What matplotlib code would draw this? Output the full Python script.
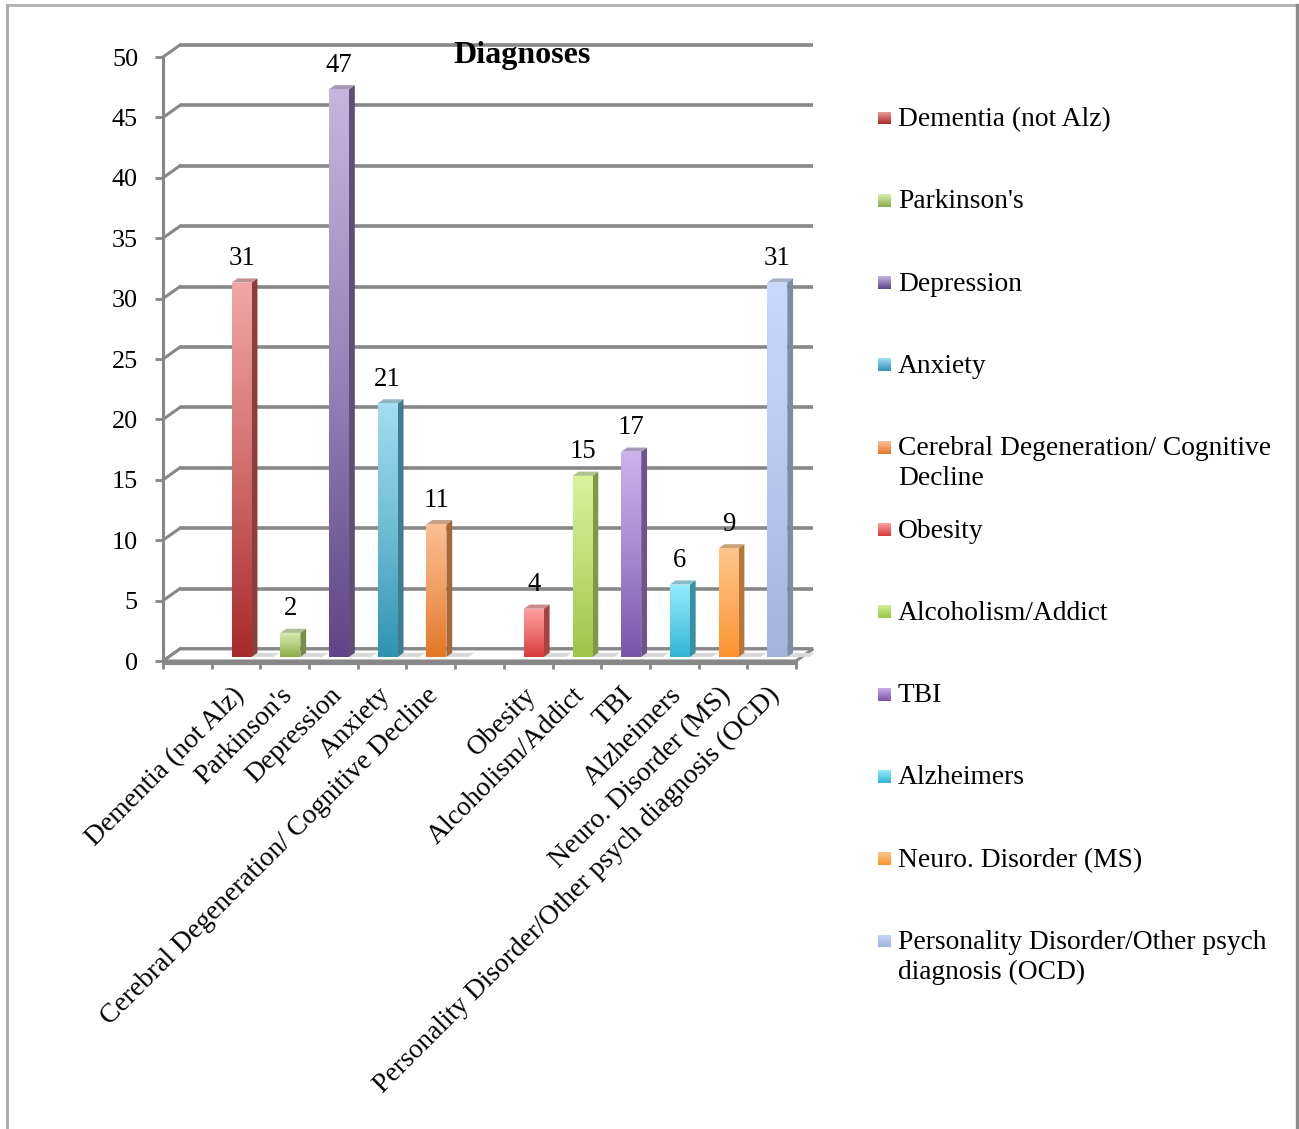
import numpy as np
import matplotlib
matplotlib.use('Agg')
import matplotlib.pyplot as plt
from matplotlib.patches import Polygon
from matplotlib.colors import LinearSegmentedColormap, to_rgb
from matplotlib.lines import Line2D

plt.rcParams['font.family'] = ['Liberation Serif', 'DejaVu Serif']

# ---------------- data ----------------
title = 'Diagnoses'
categories = ['', 'Dementia (not Alz)', "Parkinson's", 'Depression', 'Anxiety',
              'Cerebral Degeneration/ Cognitive Decline', '', 'Obesity',
              'Alcoholism/Addict', 'TBI', 'Alzheimers', 'Neuro. Disorder (MS)',
              'Personality Disorder/Other psych diagnosis (OCD)']
values = [None, 31, 2, 47, 21, 11, None, 4, 15, 17, 6, 9, 31]
legend_labels = ['Dementia (not Alz)', "Parkinson's", 'Depression', 'Anxiety',
                 'Cerebral Degeneration/ Cognitive\nDecline', 'Obesity',
                 'Alcoholism/Addict', 'TBI', 'Alzheimers', 'Neuro. Disorder (MS)',
                 'Personality Disorder/Other psych\ndiagnosis (OCD)']
top_colors = ['#f2a6a4', '#d7eeb0', '#c6b6de', '#a4ddf2', '#fbbf95', '#ffa0a0',
              '#d8f29a', '#cbb3ee', '#93ecfc', '#ffc58a', '#c8dafb']
bottom_colors = ['#a8292b', '#8aad48', '#5e4589', '#2f93b2', '#e37626', '#d83a3a',
                 '#9dc547', '#7a54aa', '#2fb3d6', '#fc922f', '#a2b4dc']
y_ticks = list(range(0, 51, 5))

# ---------------- style / geometry ----------------
W, H = 1299, 1129
GRAY = '#878787'
FS = 19.8
FS_TICK = 18.8
DX, DY = 0.35, 1.0          # depth of the 3-D box (x in slots, y in value units)
Z_FRONT, BAR_DEPTH, BAR_W = 0.33, 0.34, 0.41


def mix(c1, c2, t):
    a, b = np.array(to_rgb(c1)), np.array(to_rgb(c2))
    return tuple(a * (1 - t) + b * t)


def darker(c, f):
    return tuple(np.array(to_rgb(c)) * f)


fig = plt.figure(figsize=(W / 100, H / 100), dpi=100)
ax = fig.add_axes([163 / W, (H - 661) / H, (796 - 163) / W, (661 - 57) / H])
n = len(categories)

# back wall gridlines and side wall diagonals
for v in y_ticks:
    ax.plot([DX, n + DX], [v + DY, v + DY], color=GRAY, lw=2.6, clip_on=False, zorder=1,
            solid_capstyle='butt')
    ax.plot([0, DX], [v, v + DY], color=GRAY, lw=2.2, clip_on=False, zorder=1)

# floor
floor = Polygon([(0, 0), (n, 0), (n + DX, DY), (DX, DY)], closed=True, facecolor='white',
                edgecolor=GRAY, lw=2.2, clip_on=False, zorder=2)
ax.add_patch(floor)
ax.plot([0, n], [-0.15, -0.15], color=GRAY, lw=2.2, clip_on=False, zorder=2)

# bars
si = 0
for i, v in enumerate(values):
    if v is None:
        continue
    ct, cb = top_colors[si], bottom_colors[si]
    xc = i + 0.5 + Z_FRONT * DX
    b = Z_FRONT * DY
    x0, x1 = xc - BAR_W / 2, xc + BAR_W / 2
    # floor shadow
    sh = Polygon([(x1, b), (x1 + 0.45, b), (x1 + 0.45 + BAR_DEPTH * DX, b + BAR_DEPTH * DY),
                  (x1 + BAR_DEPTH * DX, b + BAR_DEPTH * DY)], closed=True,
                 facecolor='#d9d9d9', edgecolor='none', zorder=3, clip_on=False)
    ax.add_patch(sh)
    bars = ax.bar([xc], [v], bottom=b, width=BAR_W, color=cb, edgecolor='none', zorder=5)
    rect = bars[0]
    cmap = LinearSegmentedColormap.from_list('g%d' % si, [cb, mix(cb, ct, 0.55), ct])
    grad = np.linspace(0, 1, 256).reshape(-1, 1)
    im = ax.imshow(grad, cmap=cmap, extent=[x0, x1, b, b + v], origin='lower',
                   aspect='auto', zorder=5.5, interpolation='bicubic')
    im.set_clip_path(rect)
    # side face
    side = Polygon([(x1, b), (x1 + BAR_DEPTH * DX, b + BAR_DEPTH * DY),
                    (x1 + BAR_DEPTH * DX, b + v + BAR_DEPTH * DY), (x1, b + v)], closed=True,
                   facecolor=darker(mix(cb, ct, 0.35), 0.72), edgecolor='none', zorder=5,
                   clip_on=False)
    ax.add_patch(side)
    # top face
    top = Polygon([(x0, b + v), (x1, b + v), (x1 + BAR_DEPTH * DX, b + v + BAR_DEPTH * DY),
                   (x0 + BAR_DEPTH * DX, b + v + BAR_DEPTH * DY)], closed=True,
                  facecolor=mix(darker(ct, 0.85), '#9a9a9a', 0.25), edgecolor='none',
                  zorder=5, clip_on=False)
    ax.add_patch(top)
    ax.annotate(str(v), (xc, b + v), xytext=(0, 12.5), textcoords='offset points',
                ha='center', va='baseline', fontsize=FS_TICK + 0.5, zorder=7,
                annotation_clip=False)
    si += 1

# axes
ax.set_xlim(0, n)
ax.set_ylim(0, 50)
for s in ['top', 'right', 'bottom']:
    ax.spines[s].set_visible(False)
ax.spines['left'].set_color(GRAY)
ax.spines['left'].set_linewidth(2.2)
ax.spines['left'].set_zorder(2)
ax.set_yticks(y_ticks)
ax.tick_params(axis='y', direction='out', length=6, width=2, color=GRAY,
               labelsize=FS_TICK, pad=12)
ax.set_xticks(np.arange(n + 1), minor=True)
ax.set_xticks(np.arange(n) + 0.5 + Z_FRONT * DX - 0.03)
ax.set_xticklabels(categories, rotation=45, ha='right', va='center',
                   rotation_mode='anchor', fontsize=FS)
ax.tick_params(axis='x', which='major', length=0, pad=22)
ax.tick_params(axis='x', which='minor', direction='out', length=6, width=2, color=GRAY)
ax.patch.set_visible(False)

# title
fig.text(522 / W, 1 - 55 / H, title, ha='center', va='center', fontsize=23,
         fontweight='bold')

# legend (manual)
leg_y0, leg_step, line_step = 118, 82.3, 30
for k, lab in enumerate(legend_labels):
    yc = leg_y0 + k * leg_step
    lax = fig.add_axes([878 / W, 1 - (yc + 6.5) / H, 13 / W, 13 / H])
    cm = LinearSegmentedColormap.from_list('l%d' % k, [bottom_colors[k], top_colors[k]])
    lax.imshow(np.linspace(0, 1, 64).reshape(-1, 1), cmap=cm, origin='lower',
               aspect='auto')
    lax.axis('off')
    for j, line in enumerate(lab.split('\n')):
        fig.text(898 / W, 1 - (yc + 8 + j * line_step) / H, line, ha='left',
                 va='baseline', fontsize=FS)

# outer frame (left, top, right)
fig.add_artist(Line2D([7 / W, 7 / W], [0, 1 - 5 / H], transform=fig.transFigure,
                      color='#a8a8a8', lw=2))
fig.add_artist(Line2D([7 / W, 1297 / W], [1 - 5 / H, 1 - 5 / H], transform=fig.transFigure,
                      color='#b0b0b0', lw=2))
fig.add_artist(Line2D([1297 / W, 1297 / W], [0, 1 - 5 / H], transform=fig.transFigure,
                      color='#8a8a8a', lw=2.4))

fig.savefig('out.png', dpi=100)
